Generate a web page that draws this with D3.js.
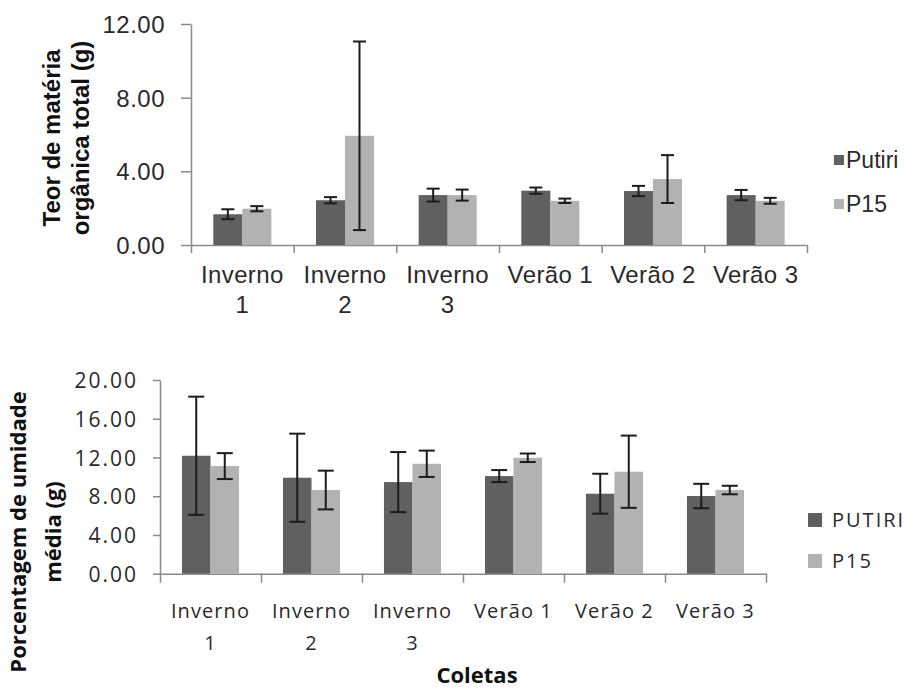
<!DOCTYPE html>
<html>
<head>
<meta charset="utf-8">
<script src="https://cdn.jsdelivr.net/npm/d3@7"></script>
<style>
  body { margin: 0; background: #fff; }
  svg { display: block; }
</style>
</head>
<body>
<svg id="chart" width="909" height="688"></svg>
<script>
// categories (shared by both panels)
const coletas = ["Inverno 1", "Inverno 2", "Inverno 3", "Verão 1", "Verão 2", "Verão 3"];

// top panel: teor de matéria orgânica total (g)
const moPutiri = [1.67, 2.43, 2.71, 2.95, 2.93, 2.71];
const moPutiriErr = [0.27, 0.17, 0.35, 0.17, 0.28, 0.28];
const moP15 = [1.97, 5.93, 2.71, 2.40, 3.58, 2.40];
const moP15Err = [0.14, 5.12, 0.30, 0.12, 1.30, 0.16];
const moTicks = [0, 4, 8, 12];

// bottom panel: porcentagem de umidade média
const umPutiri = [12.18, 9.91, 9.46, 10.08, 8.26, 8.02];
const umPutiriErr = [6.10, 4.55, 3.10, 0.62, 2.06, 1.26];
const umP15 = [11.11, 8.64, 11.35, 11.97, 10.53, 8.64];
const umP15Err = [1.34, 2.00, 1.36, 0.44, 3.73, 0.44];
const umTicks = [0, 4, 8, 12, 16, 20];

const darkGrey = "#606060";
const lightGrey = "#b2b2b2";
const axisGrey = "#8a8a8a";
const ink = "#2a2a2a";

const svg = d3.select("#chart");

function drawPanel(cfg) {
  const g = svg.append("g");
  const fmt = d3.format(".2f");

  const x0 = d3.scaleBand().domain(coletas).range([cfg.left, cfg.right]).padding(0);
  const x1 = d3.scaleBand().domain([0, 1]).range([0, x0.bandwidth()]).paddingInner(0).paddingOuter(0.77);
  const y = d3.scaleLinear().domain(cfg.domain).range([cfg.bottom, cfg.top]);
  const xt = d3.scaleLinear().domain([0, coletas.length]).range([cfg.left, cfg.right]);

  // y axis
  const yAxis = g.append("g")
    .attr("transform", `translate(${cfg.left},0)`)
    .call(d3.axisLeft(y).tickValues(cfg.ticks).tickFormat(fmt)
      .tickSize(cfg.yTick).tickSizeOuter(0).tickPadding(cfg.yPad));
  yAxis.select(".domain").attr("stroke", axisGrey).attr("stroke-width", 1.5);
  yAxis.selectAll(".tick line").attr("stroke", axisGrey).attr("stroke-width", 1.5);
  yAxis.selectAll(".tick text")
    .attr("font-family", cfg.font).attr("font-size", cfg.tickFont)
    .attr("letter-spacing", cfg.tickSpacing).attr("fill", ink)
    .attr("dy", "0.36em");

  // x axis line + boundary ticks
  const xAxis = g.append("g")
    .attr("transform", `translate(0,${cfg.bottom})`)
    .call(d3.axisBottom(xt).tickValues(d3.range(coletas.length + 1)).tickFormat("")
      .tickSize(cfg.xTick).tickSizeOuter(0));
  xAxis.select(".domain").attr("stroke", axisGrey).attr("stroke-width", 1.5);
  xAxis.selectAll(".tick line").attr("stroke", axisGrey).attr("stroke-width", 1.5);

  // category labels, wrapped onto two lines when too wide
  const lab = g.append("g")
    .attr("transform", `translate(0,${cfg.bottom})`)
    .call(d3.axisBottom(x0).tickSize(0));
  lab.select(".domain").remove();
  lab.selectAll(".tick text").each(function (d) {
    const t = d3.select(this)
      .attr("font-family", cfg.font).attr("font-size", cfg.labelFont)
      .attr("letter-spacing", cfg.labelSpacing).attr("fill", ink)
      .attr("y", cfg.labelY).attr("dy", null);
    t.text(d);
    if (this.getComputedTextLength() > x0.bandwidth() * 0.88) {
      const i = d.lastIndexOf(" ");
      t.text(null);
      t.append("tspan").attr("x", 0).attr("y", cfg.labelY).text(d.slice(0, i));
      t.append("tspan").attr("x", 0).attr("y", cfg.labelY + cfg.labelLine).text(d.slice(i + 1));
    }
  });

  // bars + error bars
  const series = [
    {vals: cfg.a, err: cfg.aErr, color: darkGrey},
    {vals: cfg.b, err: cfg.bErr, color: lightGrey}
  ];
  series.forEach((s, si) => {
    const grp = g.append("g");
    grp.selectAll("rect")
      .data(coletas)
      .enter().append("rect")
      .attr("x", (c) => x0(c) + x1(si))
      .attr("width", x1.bandwidth())
      .attr("y", (c, i) => y(s.vals[i]))
      .attr("height", (c, i) => y(0) - y(s.vals[i]))
      .attr("fill", s.color);

    const eb = grp.selectAll(".err")
      .data(coletas)
      .enter().append("g")
      .attr("transform", (c) => `translate(${x0(c) + x1(si) + x1.bandwidth() / 2},0)`)
      .attr("stroke", "#1c1c1c").attr("stroke-width", 2);
    eb.append("line")
      .attr("y1", (c, i) => y(s.vals[i] + s.err[i]))
      .attr("y2", (c, i) => y(s.vals[i] - s.err[i]));
    [1, -1].forEach((sign) => {
      eb.append("line")
        .attr("x1", -cfg.cap / 2).attr("x2", cfg.cap / 2)
        .attr("y1", (c, i) => y(s.vals[i] + sign * s.err[i]))
        .attr("y2", (c, i) => y(s.vals[i] + sign * s.err[i]));
    });
  });

  // legend
  const leg = g.append("g");
  cfg.legend.forEach((name, i) => {
    const ly = cfg.legY[i];
    leg.append("rect")
      .attr("x", cfg.legX).attr("y", ly - cfg.legBox / 2 - cfg.legShift)
      .attr("width", cfg.legBox).attr("height", cfg.legBox)
      .attr("fill", i === 0 ? darkGrey : lightGrey);
    leg.append("text")
      .attr("x", cfg.legTextX).attr("y", ly)
      .attr("font-family", cfg.font).attr("font-size", cfg.legFont)
      .attr("letter-spacing", cfg.legSpacing)
      .attr("fill", ink).text(name);
  });

  // y title
  const yt = g.append("text")
    .attr("transform", `translate(0,${cfg.titleY}) rotate(-90)`)
    .attr("text-anchor", "middle")
    .attr("font-family", cfg.font).attr("font-weight", "bold")
    .attr("font-size", cfg.titleFont).attr("fill", "#111");
  cfg.title.forEach((line, i) => {
    yt.append("tspan").attr("x", 0).attr("y", cfg.titleX[i]).text(line);
  });

  return g;
}

drawPanel({
  left: 191, right: 807, top: 24, bottom: 245,
  domain: [0, 12], ticks: moTicks,
  a: moPutiri, aErr: moPutiriErr, b: moP15, bErr: moP15Err,
  font: "'Liberation Sans', Arial, sans-serif",
  tickFont: 24, tickSpacing: 0.5, yTick: 10, yPad: 16, xTick: 8,
  labelFont: 24, labelSpacing: 0.4, labelY: 38, labelLine: 30,
  cap: 13,
  legend: ["Putiri", "P15"], legX: 834, legTextX: 846, legY: [168, 212],
  legBox: 10, legShift: 8, legFont: 23, legSpacing: 0,
  title: ["Teor de matéria", "orgânica total (g)"], titleX: [60, 89],
  titleY: 138, titleFont: 24
});

const bottomPanel = drawPanel({
  left: 160, right: 766, top: 380, bottom: 573.7,
  domain: [0, 20], ticks: umTicks,
  a: umPutiri, aErr: umPutiriErr, b: umP15, bErr: umP15Err,
  font: "'Open Sans', 'Noto Sans', sans-serif",
  tickFont: 21, tickSpacing: 2, yTick: 7, yPad: 15, xTick: 9,
  labelFont: 20, labelSpacing: 1.1, labelY: 44, labelLine: 32,
  cap: 16,
  legend: ["PUTIRI", "P15"], legX: 808, legTextX: 832, legY: [527, 568],
  legBox: 14, legShift: 7, legFont: 20, legSpacing: 2,
  title: ["Porcentagem de umidade", "média (g)"], titleX: [26, 61],
  titleY: 532, titleFont: 22
});

bottomPanel.append("text")
  .attr("x", 477).attr("y", 683)
  .attr("text-anchor", "middle")
  .attr("font-family", "'Open Sans', 'Noto Sans', sans-serif")
  .attr("font-weight", "bold").attr("font-size", 22)
  .attr("fill", "#111")
  .text("Coletas");
</script>
</body>
</html>
